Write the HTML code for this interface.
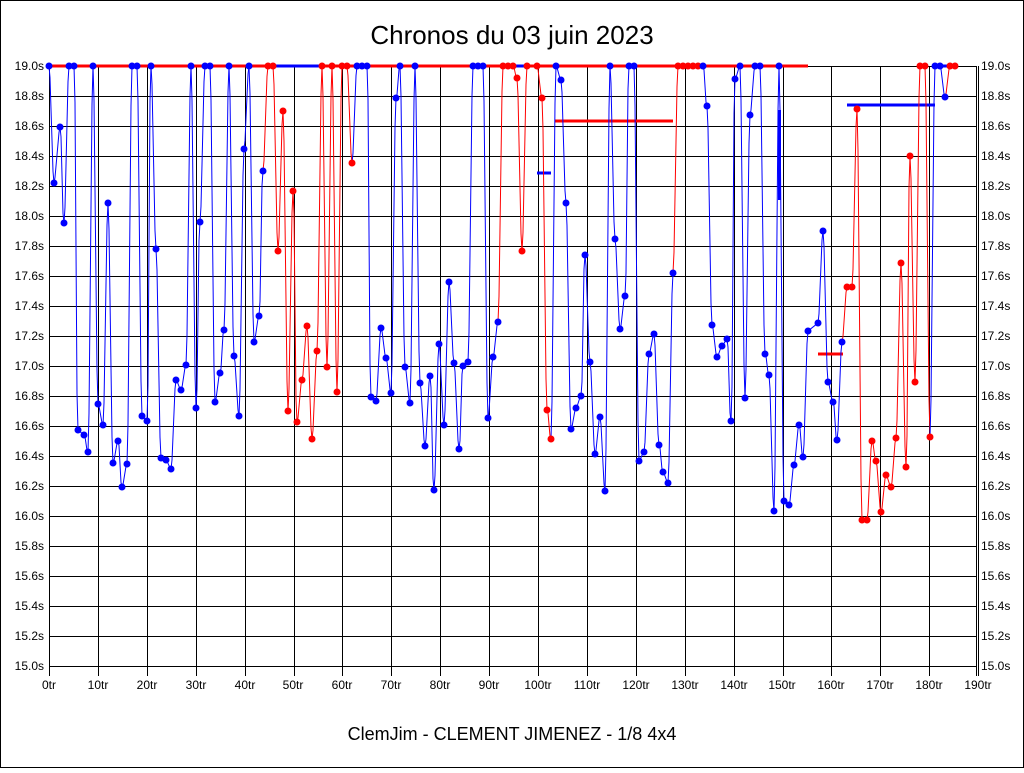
<!DOCTYPE html>
<html><head><meta charset="utf-8"><style>
body{margin:0;background:#fff;width:1024px;height:768px;overflow:hidden;font-family:"Liberation Sans",sans-serif}
svg text{font-family:"Liberation Sans",sans-serif;font-size:12px}
</style></head><body>
<svg id="s" width="1024" height="768" xmlns="http://www.w3.org/2000/svg">
<rect x="0.5" y="0.5" width="1023" height="767" fill="#fff" stroke="#000"/>
<text x="512" y="44" text-anchor="middle" style="font-size:26px">Chronos du 03 juin 2023</text>
<text x="512" y="740" text-anchor="middle" style="font-size:18px">ClemJim - CLEMENT JIMENEZ - 1/8 4x4</text>
<g id="grid" stroke="#000" stroke-width="1"></g>
<g font-size="12">
<text x="44" y="70" text-anchor="end">19.0s</text><text x="44" y="100" text-anchor="end">18.8s</text><text x="44" y="130" text-anchor="end">18.6s</text><text x="44" y="160" text-anchor="end">18.4s</text><text x="44" y="190" text-anchor="end">18.2s</text><text x="44" y="220" text-anchor="end">18.0s</text><text x="44" y="250" text-anchor="end">17.8s</text><text x="44" y="280" text-anchor="end">17.6s</text><text x="44" y="310" text-anchor="end">17.4s</text><text x="44" y="340" text-anchor="end">17.2s</text><text x="44" y="370" text-anchor="end">17.0s</text><text x="44" y="400" text-anchor="end">16.8s</text><text x="44" y="430" text-anchor="end">16.6s</text><text x="44" y="460" text-anchor="end">16.4s</text><text x="44" y="490" text-anchor="end">16.2s</text><text x="44" y="520" text-anchor="end">16.0s</text><text x="44" y="550" text-anchor="end">15.8s</text><text x="44" y="580" text-anchor="end">15.6s</text><text x="44" y="610" text-anchor="end">15.4s</text><text x="44" y="640" text-anchor="end">15.2s</text><text x="44" y="670" text-anchor="end">15.0s</text>
<text x="981" y="70">19.0s</text><text x="981" y="100">18.8s</text><text x="981" y="130">18.6s</text><text x="981" y="160">18.4s</text><text x="981" y="190">18.2s</text><text x="981" y="220">18.0s</text><text x="981" y="250">17.8s</text><text x="981" y="280">17.6s</text><text x="981" y="310">17.4s</text><text x="981" y="340">17.2s</text><text x="981" y="370">17.0s</text><text x="981" y="400">16.8s</text><text x="981" y="430">16.6s</text><text x="981" y="460">16.4s</text><text x="981" y="490">16.2s</text><text x="981" y="520">16.0s</text><text x="981" y="550">15.8s</text><text x="981" y="580">15.6s</text><text x="981" y="610">15.4s</text><text x="981" y="640">15.2s</text><text x="981" y="670">15.0s</text>
<text x="49" y="689" text-anchor="middle">0tr</text><text x="98" y="689" text-anchor="middle">10tr</text><text x="147" y="689" text-anchor="middle">20tr</text><text x="196" y="689" text-anchor="middle">30tr</text><text x="245" y="689" text-anchor="middle">40tr</text><text x="293" y="689" text-anchor="middle">50tr</text><text x="342" y="689" text-anchor="middle">60tr</text><text x="391" y="689" text-anchor="middle">70tr</text><text x="440" y="689" text-anchor="middle">80tr</text><text x="489" y="689" text-anchor="middle">90tr</text><text x="538" y="689" text-anchor="middle">100tr</text><text x="587" y="689" text-anchor="middle">110tr</text><text x="636" y="689" text-anchor="middle">120tr</text><text x="685" y="689" text-anchor="middle">130tr</text><text x="734" y="689" text-anchor="middle">140tr</text><text x="782" y="689" text-anchor="middle">150tr</text><text x="831" y="689" text-anchor="middle">160tr</text><text x="880" y="689" text-anchor="middle">170tr</text><text x="929" y="689" text-anchor="middle">180tr</text><text x="978" y="689" text-anchor="middle">190tr</text>
</g>
<g id="data"></g>
</svg>
<script>
var NS="http://www.w3.org/2000/svg";
function el(p,t,a){var e=document.createElementNS(NS,t);for(var k in a)e.setAttribute(k,a[k]);p.appendChild(e);return e;}
var g=document.getElementById('grid');
for(var i=0;i<=20;i++){var y=66+i*30;el(g,'line',{x1:49,x2:976,y1:y+.5,y2:y+.5});}
for(var i=0;i<=19;i++){var x=Math.round(49+i*48.9);el(g,'line',{x1:x+.5,x2:x+.5,y1:66,y2:676});}
el(g,'line',{x1:976.5,x2:976.5,y1:66,y2:676});
var d=document.getElementById('data');
var R='#f00',B='#00f';
// thick top lines
el(d,'line',{x1:49,x2:268,y1:66,y2:66,stroke:R,'stroke-width':3});
el(d,'line',{x1:268,x2:322,y1:66,y2:66,stroke:B,'stroke-width':3});
el(d,'line',{x1:322,x2:808,y1:66,y2:66,stroke:R,'stroke-width':3});
el(d,'line',{x1:500,x2:527,y1:66,y2:66,stroke:B,'stroke-width':3});
el(d,'line',{x1:940,x2:957,y1:66,y2:66,stroke:B,'stroke-width':3});
el(d,'line',{x1:537,x2:551,y1:173,y2:173,stroke:B,'stroke-width':3});
el(d,'line',{x1:555,x2:673,y1:121,y2:121,stroke:R,'stroke-width':3});
el(d,'line',{x1:779.5,x2:779.5,y1:110,y2:200,stroke:B,'stroke-width':3});
el(d,'line',{x1:818,x2:843,y1:354,y2:354,stroke:R,'stroke-width':3});
el(d,'line',{x1:847,x2:935,y1:105,y2:105,stroke:B,'stroke-width':3});
var pts=[
[49,66,B],[54,183,B],[60,127,B],[64,223,B],[69,66,B],[74,66,B],[78,430,B],[84,435,B],[88,452,B],[93,66,B],[98,404,B],[103,425,B],[108,203,B],[113,463,B],[118,441,B],[122,487,B],[127,464,B],[132,66,B],[137,66,B],[142,416,B],[147,421,B],[151,66,B],[156,249,B],[161,458,B],[166,460,B],[171,469,B],[176,380,B],[181,390,B],[186,365,B],[191,66,B],[196,408,B],[200,222,B],[205,66,B],[210,66,B],[215,402,B],[220,373,B],[224,330,B],[229,66,B],[234,356,B],[239,416,B],[244,149,B],[249,66,B],[254,342,B],[259,316,B],[263,171,B],
[268,66,R],[273,66,R],[278,251,R],[283,111,R],[288,411,R],[293,191,R],[297,422,R],[302,380,R],[307,326,R],[312,439,R],[317,351,R],[322,66,R],[327,367,R],[332,66,R],[337,392,R],[342,66,R],[347,66,R],[352,163,R],[357,66,B],
[362,66,B],[367,66,B],[371,397,B],[376,401,B],[381,328,B],[386,358,B],[391,393,B],[396,98,B],[400,66,B],[405,367,B],[410,403,B],[415,66,B],[420,383,B],[425,446,B],[430,376,B],[434,490,B],[439,344,B],[444,425,B],[449,282,B],[454,363,B],[459,449,B],[463,366,B],[468,362,B],[473,66,B],[478,66,B],[483,66,B],[488,418,B],[493,357,B],[498,322,B],
[503,66,R],[508,66,R],[513,66,R],[517,78,R],[522,251,R],[527,66,R],[537,66,R],[542,98,R],[547,410,R],[551,439,R],
[556,66,B],[561,80,B],[566,203,B],[571,429,B],[576,408,B],[581,396,B],[585,255,B],[590,362,B],[595,454,B],[600,417,B],[605,491,B],[610,66,B],[615,239,B],[620,329,B],[625,296,B],[629,66,B],[634,66,B],[639,461,B],[644,452,B],[649,354,B],[654,334,B],[659,445,B],[663,472,B],[668,483,B],[673,273,B],
[678,66,R],[683,66,R],[688,66,R],[693,66,R],[698,66,R],
[703,66,B],[707,106,B],[712,325,B],[717,357,B],[722,346,B],[727,339,B],[731,421,B],[735,79,B],[740,66,B],[745,398,B],[750,115,B],[755,66,B],[760,66,B],[765,354,B],[769,375,B],[774,511,B],[779,66,B],[784,501,B],[789,505,B],[794,465,B],[799,425,B],[803,457,B],[808,331,B],[818,323,B],[823,231,B],[828,382,B],[833,402,B],[837,440,B],[842,342,B],
[847,287,R],[852,287,R],[857,109,R],[862,520,R],[867,520,R],[872,441,R],[876,461,R],[881,512,R],[886,475,R],[891,487,R],[896,438,R],[901,263,R],[906,467,R],[910,156,R],[915,382,R],[920,66,R],[925,66,R],[930,437,R],[935,66,B],[940,66,B],[945,97,B],[950,66,R],[955,66,R]];
for(var i=1;i<pts.length;i++){var a=pts[i-1],b=pts[i];
 el(d,'polyline',{points:a[0]+','+a[1]+' '+(a[0]+1)+','+(a[1]+(b[1]-a[1])*0.1)+' '+(b[0]-1)+','+(a[1]+(b[1]-a[1])*0.9)+' '+b[0]+','+b[1],fill:'none',stroke:b[2],'stroke-width':1});}
for(var i=0;i<pts.length;i++){el(d,'circle',{cx:pts[i][0],cy:pts[i][1],r:3.5,fill:pts[i][2]});}
</script>
</body></html>
